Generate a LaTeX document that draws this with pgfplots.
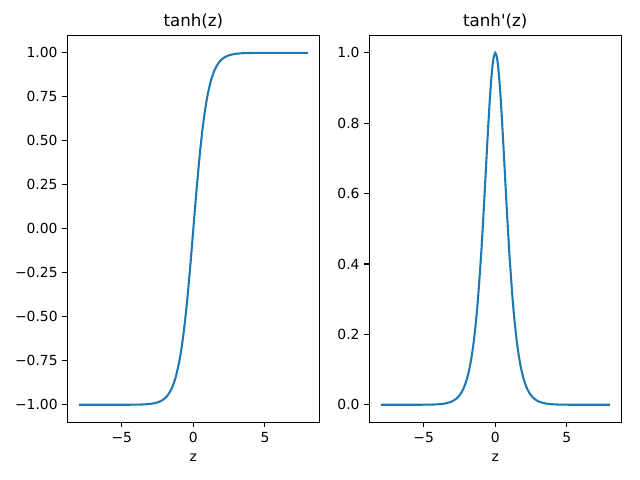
\documentclass[border=0pt]{standalone}
\usepackage{fontspec}
\setmainfont{DejaVu Sans}
\usepackage{pgfplots}
\pgfplotsset{compat=1.18}
\definecolor{mplblue}{HTML}{1F77B4}

\pgfplotsset{
  tanhax/.style={
    scale only axis,
    width=181.4pt, height=278.7pt,
    xmin=-8.8, xmax=8.8,
    axis line style={black, line width=0.8pt},
    tick style={black, line width=0.8pt},
    tick align=outside,
    major tick length=3.5pt,
    xtick pos=bottom, ytick pos=left,
    xtick={-5,0,5},
    xticklabels={−5,0,5},
    ticklabel style={font=\fontsize{10}{12}\selectfont},
    xlabel={z},
    xlabel style={font=\fontsize{10}{12}\selectfont, yshift=-1pt},
    title style={font=\fontsize{12}{14}\selectfont, yshift=-5pt},
    /pgf/number format/assume math mode=true,
  },
}

\begin{document}
\begin{tikzpicture}
\path[use as bounding box] (0,0) rectangle (460.8pt,345.6pt);

\begin{axis}[tanhax,
  at={(48.5pt,41.5pt)}, anchor=south west,
  ymin=-1.1, ymax=1.1,
  ytick={-1,-0.75,-0.5,-0.25,0,0.25,0.5,0.75,1},
  yticklabels={−1.00,−0.75,−0.50,−0.25,0.00,0.25,0.50,0.75,1.00},
  title={tanh(z)},
]
\addplot[mplblue, line width=1.5pt, smooth] coordinates {
  (-8,-0.9999998) (-7,-0.9999983) (-6,-0.9999877) (-5,-0.9999092)
  (-4.5,-0.9997532) (-4,-0.9993293) (-3.5,-0.9981779) (-3,-0.9950548)
  (-2.75,-0.9918151) (-2.5,-0.9866143) (-2.25,-0.9780261) (-2,-0.9640276)
  (-1.75,-0.9413755) (-1.5,-0.9051483) (-1.25,-0.8482836) (-1,-0.7615942)
  (-0.875,-0.703906) (-0.75,-0.6351490) (-0.625,-0.554600) (-0.5,-0.4621172)
  (-0.375,-0.358357) (-0.25,-0.2449187) (-0.125,-0.124353) (0,0)
  (0.125,0.124353) (0.25,0.2449187) (0.375,0.358357) (0.5,0.4621172)
  (0.625,0.554600) (0.75,0.6351490) (0.875,0.703906) (1,0.7615942)
  (1.25,0.8482836) (1.5,0.9051483) (1.75,0.9413755) (2,0.9640276)
  (2.25,0.9780261) (2.5,0.9866143) (2.75,0.9918151) (3,0.9950548)
  (3.5,0.9981779) (4,0.9993293) (4.5,0.9997532) (5,0.9999092)
  (6,0.9999877) (7,0.9999983) (8,0.9999998)
};
\end{axis}

\begin{axis}[tanhax,
  at={(265.9pt,41.5pt)}, anchor=south west,
  ymin=-0.05, ymax=1.05,
  ytick={0,0.2,0.4,0.6,0.8,1},
  yticklabels={0.0,0.2,0.4,0.6,0.8,1.0},
  title={tanh\textquotesingle(z)},
]
\addplot[mplblue, line width=1.5pt, smooth] coordinates {
  (-8,0.0000005) (-7,0.0000033) (-6,0.0000246) (-5,0.000182)
  (-4.5,0.000493) (-4,0.001341) (-3.5,0.003641) (-3,0.009866)
  (-2.75,0.016303) (-2.5,0.026592) (-2.25,0.043465) (-2,0.070651)
  (-1.75,0.113811) (-1.5,0.180707) (-1.25,0.280414) (-1,0.419974)
  (-0.875,0.504516) (-0.75,0.596586) (-0.625,0.692420) (-0.5,0.786448)
  (-0.375,0.871580) (-0.25,0.940015) (-0.125,0.984536) (0,1)
  (0.125,0.984536) (0.25,0.940015) (0.375,0.871580) (0.5,0.786448)
  (0.625,0.692420) (0.75,0.596586) (0.875,0.504516) (1,0.419974)
  (1.25,0.280414) (1.5,0.180707) (1.75,0.113811) (2,0.070651)
  (2.25,0.043465) (2.5,0.026592) (2.75,0.016303) (3,0.009866)
  (3.5,0.003641) (4,0.001341) (4.5,0.000493) (5,0.000182)
  (6,0.0000246) (7,0.0000033) (8,0.0000005)
};
\end{axis}
\end{tikzpicture}
\end{document}
